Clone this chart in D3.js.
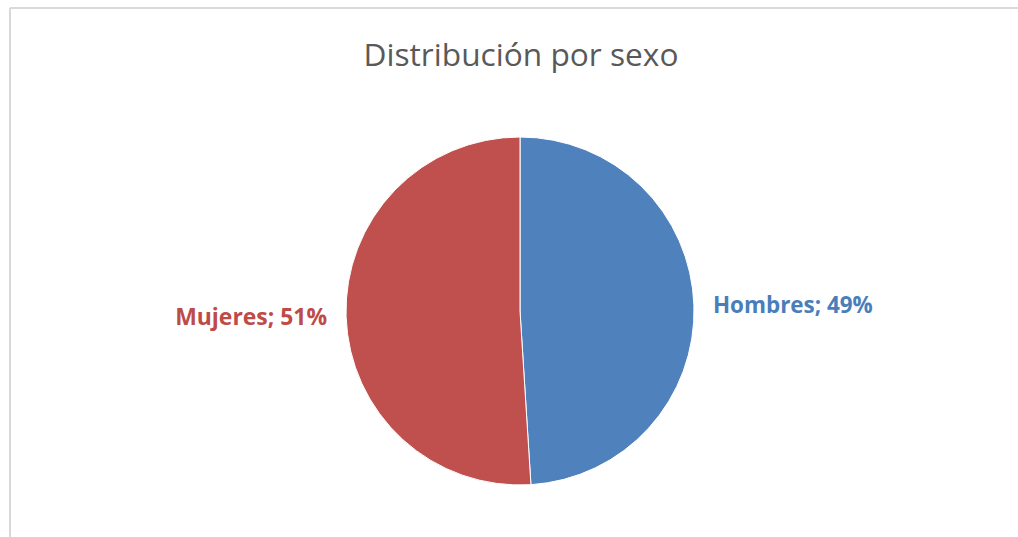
<html>
<head>
<meta charset="utf-8">
<script src="https://d3js.org/d3.v7.min.js"></script>
<style>
  body { margin: 0; background: #fff; }
  svg { display: block; }
  .title { font-family: "Open Sans", sans-serif; font-weight: 400; fill: #595959; }
  .label { font-family: "Open Sans", sans-serif; font-weight: 700; }
</style>
</head>
<body>
<svg id="chart" width="1018" height="537"></svg>
<script>
const categories = ["Hombres", "Mujeres"];
const values = [49, 51];
const colors = ["#4f81bd", "#c0504d"];
const labelColors = ["#4a7ebb", "#be4b48"];
const title = "Distribución por sexo";

const svg = d3.select("#chart");

// chart area border (only top and left show in the crop)
svg.append("line").attr("x1", 10).attr("y1", 8).attr("x2", 1018).attr("y2", 8)
  .attr("stroke", "#d9d9d9").attr("stroke-width", 2);
svg.append("line").attr("x1", 10).attr("y1", 8).attr("x2", 10).attr("y2", 537)
  .attr("stroke", "#d9d9d9").attr("stroke-width", 2);

// title, sized to the width in the picture
const t = svg.append("text").attr("class", "title")
  .attr("x", 521).attr("y", 66).attr("text-anchor", "middle")
  .style("font-size", "30px").text(title);
const tw = t.node().getComputedTextLength();
t.style("font-size", (30 * 315 / tw) + "px");

const cx = 520, cy = 311, r = 174;
const g = svg.append("g").attr("transform", `translate(${cx},${cy})`);

const data = categories.map((c, i) => ({ name: c, value: values[i], i: i }));
const pie = d3.pie().sort(null).value(d => d.value);
const arc = d3.arc().innerRadius(0).outerRadius(r);
const arcs = pie(data);

g.selectAll("path")
  .data(arcs)
  .join("path")
  .attr("d", arc)
  .attr("fill", d => colors[d.data.i])
  .attr("stroke", "#fff")
  .attr("stroke-width", 1);

const lr = r + 19;
const targetW = [160, 152];
g.selectAll("text.label")
  .data(arcs)
  .join("text")
  .attr("class", "label")
  .attr("x", d => lr * Math.sin((d.startAngle + d.endAngle) / 2))
  .attr("y", d => -lr * Math.cos((d.startAngle + d.endAngle) / 2) + 2)
  .attr("dominant-baseline", "middle")
  .attr("text-anchor", d => Math.sin((d.startAngle + d.endAngle) / 2) > 0 ? "start" : "end")
  .attr("fill", d => labelColors[d.data.i])
  .style("font-size", "22px")
  .text(d => d.data.name + "; " + d.data.value + "%")
  .each(function(d) {
    const w = this.getComputedTextLength();
    d3.select(this).style("font-size", (22 * targetW[d.data.i] / w) + "px");
  });
</script>
</body>
</html>
